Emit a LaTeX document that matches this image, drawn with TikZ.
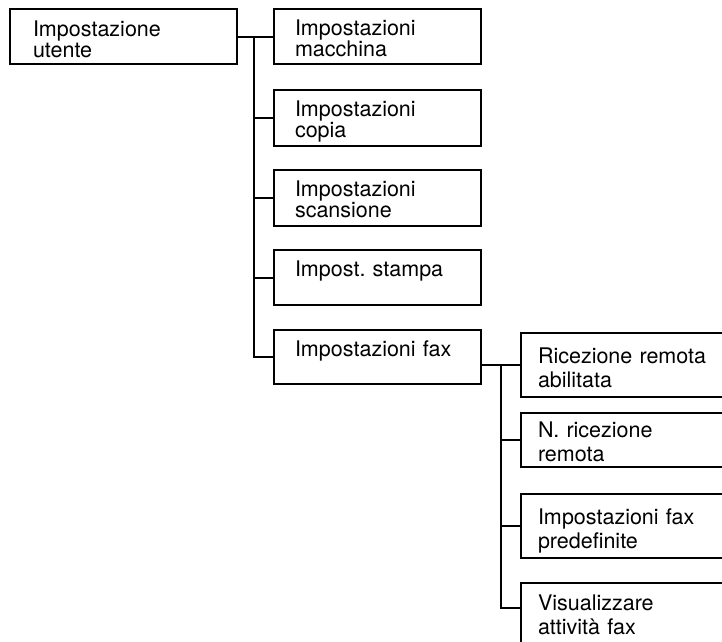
\documentclass[tikz,border=0pt]{standalone}
\usepackage{fontspec}
\setmainfont{TeX Gyre Heros}
\frenchspacing

\begin{document}
\begin{tikzpicture}[x=1pt,y=1pt,line width=2pt,
  framebox/.style={draw,black,anchor=north west,align=left,inner ysep=0pt},
  rootbox/.style={framebox,inner xsep=23pt,text width=181pt,text height=27pt,
    font=\fontsize{21.5}{21.5}\selectfont},
  menubox/.style={framebox,inner xsep=21pt,text width=165pt,text height=26pt,
    font=\fontsize{21.5}{21.5}\selectfont},
  subbox/.style={framebox,inner xsep=17pt,text width=200pt,
    font=\fontsize{21.5}{24.5}\selectfont}]
\useasboundingbox (0,0) rectangle (722,-641);
\clip (0,0) rectangle (722,-641);
% first level
\node [rootbox,text depth=28pt] (utente) at (9,-8) {Impostazione\\utente};
\node [menubox,text depth=29pt] (macchina) at (273,-8) {Impostazioni\\macchina};
\node [menubox,text depth=30pt] (copia) at (273,-89) {Impostazioni\\copia};
\node [menubox,text depth=30pt] (scansione) at (273,-169) {Impostazioni\\scansione};
\node [menubox,text depth=29pt] (stampa) at (273,-249) {Impost. stampa};
\node [menubox,text depth=28pt] (fax) at (273,-329) {Impostazioni fax};
% fax settings
\node [subbox,text height=30pt,text depth=34pt] (ricezione) at (520,-332) {Ricezione remota\\abilitata};
\node [subbox,text height=24pt,text depth=30pt] (nricezione) at (520,-412) {N. ricezione\\remota};
\node [subbox,text height=30pt,text depth=34pt] (predef) at (520,-493) {Impostazioni fax\\predefinite};
\node [subbox,text height=27pt,text depth=43pt] (attivita) at (520,-582) {Visualizzare\\attivit\`a fax};
% connectors
\draw (utente.east) -- (macchina.west);
\coordinate (splitA) at (macchina.west -| 254,0);
\draw (splitA) |- (fax.west);
\foreach \n in {copia,scansione,stampa}
  \draw (splitA |- \n.west) -- (\n.west);
\draw (fax.east |- ricezione.west) -- (ricezione.west);
\coordinate (splitB) at (ricezione.west -| 501,0);
\coordinate (splitBend) at (501,-608);
\draw (splitB) -- (splitBend) -- (splitBend -| attivita.west);
\foreach \n in {nricezione,predef}
  \draw (splitB |- \n.west) -- (\n.west);
\end{tikzpicture}
\end{document}
